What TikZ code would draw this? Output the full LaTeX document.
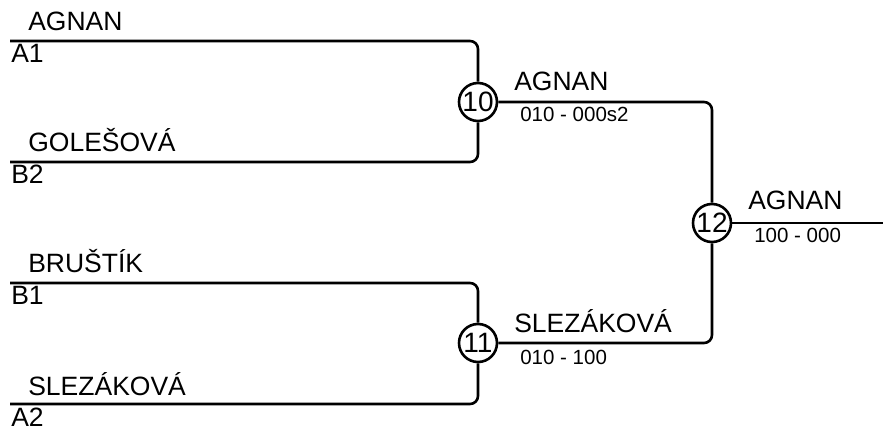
\documentclass[tikz,border=0pt]{standalone}
\usepackage{fontspec}
\setmainfont{Liberation Sans}
\usepackage{tikz}
\usetikzlibrary{positioning}

\begin{document}
\begin{tikzpicture}[x=1pt, y=-1pt, line width=2.6pt,
  game/.style={circle, draw, minimum size=38pt, inner sep=0pt, fill=white, font=\fontsize{28}{30}\selectfont},
  team/.style={anchor=base west, inner sep=0pt, font=\fontsize{26.5}{30}\selectfont},
  seed/.style={anchor=base west, inner sep=0pt, font=\fontsize{26.5}{30}\selectfont},
  score/.style={anchor=base west, inner sep=0pt, font=\fontsize{20.5}{24}\selectfont},
  bracket/.style={rounded corners=8pt}]

\useasboundingbox (0,0) rectangle (883,427);

% 
\coordinate (a1) at (10, 41);
\coordinate (b2) at (10, 162);
\coordinate (b1) at (10, 283);
\coordinate (a2) at (10, 404);
\coordinate (out) at (883, 223);

% 
\node[game] (g10) at (478, 102) {10};
\node[game] (g11) at (478, 343) {11};
\node[game] (g12) at (712, 223) {12};

% 
\draw[bracket] (a1) -| (g10);
\draw[bracket] (b2) -| (g10);
\draw[bracket] (b1) -| (g11);
\draw[bracket] (a2) -| (g11);
\draw[bracket] (g10) -| (g12);
\draw[bracket] (g11) -| (g12);
\draw (g12) -- (out);

% 
\node[team] (t1) at (27, 31) {AGNAN};
\node[seed] (s1) at (10, 63) {A1};
\node[team] (t2) at (27, 152) {GOLEŠOVÁ};
\node[seed] (s2) at (10, 184) {B2};
\node[team] (t3) at (27, 273) {BRUŠTÍK};
\node[seed] (s3) at (10, 305) {B1};
\node[team] (t4) at (27, 395) {SLEZÁKOVÁ};
\node[seed] (s4) at (10, 426) {A2};

% 
\node[team] (w10) at (513, 91) {AGNAN};
\node[score] (r10) at (519, 122) {010 - 000s2};
\node[team] (w11) at (513, 333) {SLEZÁKOVÁ};
\node[score] (r11) at (519, 364) {010 - 100};
\node[team] (w12) at (747, 210) {AGNAN};
\node[score] (r12) at (753, 243) {100 - 000};

\end{tikzpicture}
\end{document}
